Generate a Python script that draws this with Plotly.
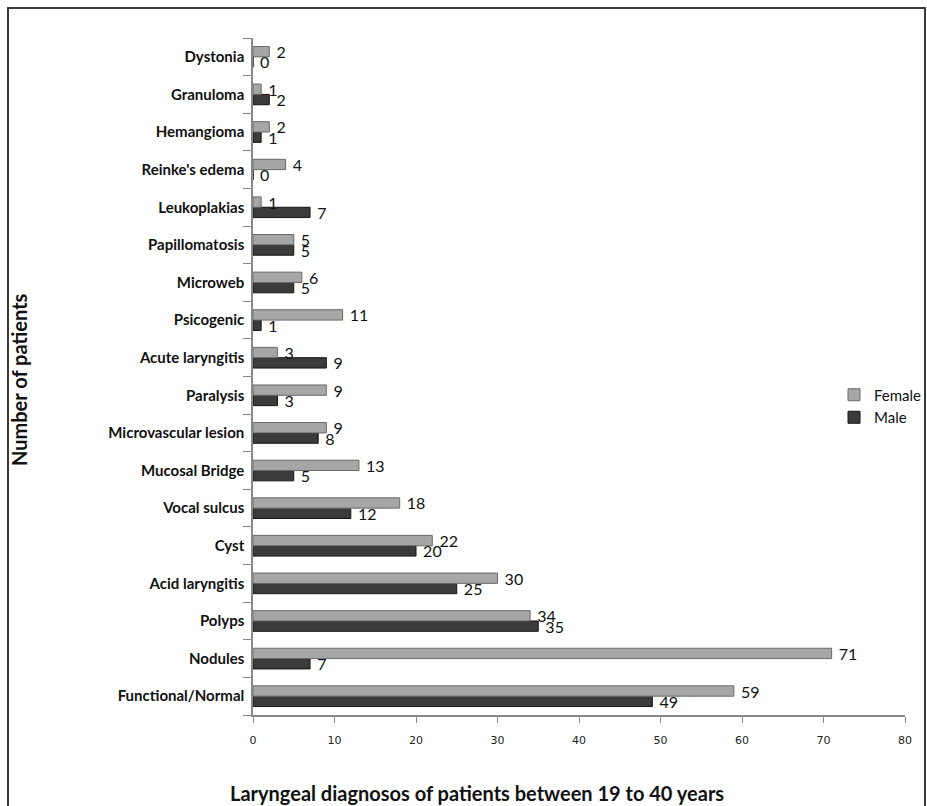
import plotly.graph_objects as go

categories = ["Functional/Normal", "Nodules", "Polyps", "Acid laryngitis", "Cyst",
              "Vocal sulcus", "Mucosal Bridge", "Microvascular lesion", "Paralysis",
              "Acute laryngitis", "Psicogenic", "Microweb", "Papillomatosis",
              "Leukoplakias", "Reinke's edema", "Hemangioma", "Granuloma", "Dystonia"]
female = [59, 71, 34, 30, 22, 18, 13, 9, 9, 3, 11, 6, 5, 1, 4, 2, 1, 2]
male = [49, 7, 35, 25, 20, 12, 5, 8, 3, 9, 1, 5, 5, 7, 0, 1, 2, 0]
x_ticks = [0, 10, 20, 30, 40, 50, 60, 70, 80]

W, H = 927, 806
L, R, T, B = 253, 22, 38, 91

FONT = "Lato, Open Sans, sans-serif"

fig = go.Figure()
fig.add_trace(go.Bar(
    y=categories, x=male, name="Male", orientation="h",
    marker=dict(color="#3b3b3b", line=dict(color="#151515", width=1)),
    texttemplate=" %{x}", textposition="outside", cliponaxis=False,
    constraintext="none",
    textfont=dict(family=FONT, size=16, color="#111111"),
))
fig.add_trace(go.Bar(
    y=categories, x=female, name="Female", orientation="h",
    marker=dict(color="#a6a6a6", line=dict(color="#6a6a6a", width=1)),
    texttemplate=" %{x}", textposition="outside", cliponaxis=False,
    constraintext="none",
    textfont=dict(family=FONT, size=16, color="#111111"),
))

pw = W - L - R
ph = H - T - B
def px_x(p):
    return (p - L) / pw
def px_y(p):
    return (H - B - p) / ph

# outer frame
fig.add_shape(type="rect", xref="paper", yref="paper",
              x0=px_x(8), x1=px_x(925), y0=px_y(812), y1=px_y(8),
              line=dict(color="#3a3a3a", width=2), layer="below")

# axis titles
fig.add_annotation(text="<b>Laryngeal diagnosos of patients between 19 to 40 years</b>",
                   xref="paper", yref="paper", x=px_x(477), y=px_y(793),
                   xanchor="center", yanchor="middle", showarrow=False,
                   font=dict(family=FONT, size=20, color="#111111"))
fig.add_annotation(text="<b>Number of patients</b>",
                   xref="paper", yref="paper", x=px_x(19), y=px_y(380),
                   xanchor="center", yanchor="middle", showarrow=False, textangle=-90,
                   font=dict(family=FONT, size=20, color="#111111"))

fig.update_layout(
    width=W, height=H,
    margin=dict(l=L, r=R, t=T, b=B, autoexpand=False),
    paper_bgcolor="white", plot_bgcolor="white",
    barmode="group", bargap=0.45, bargroupgap=0.0,
    font=dict(family=FONT, color="#111111"),
    showlegend=True,
    legend=dict(x=px_x(834), y=px_y(406), xanchor="left", yanchor="middle",
                traceorder="reversed", font=dict(family=FONT, size=15),
                bgcolor="rgba(0,0,0,0)", itemwidth=30, tracegroupgap=8),
    xaxis=dict(range=[0, 80], tickvals=x_ticks, ticks="outside", ticklen=6,
               tickcolor="#888888", showline=True, linecolor="#888888", linewidth=1.5,
               showgrid=False, zeroline=False, ticklabelstandoff=8,
               tickfont=dict(family="DejaVu Sans, sans-serif", size=11, color="#222222")),
    yaxis=dict(categoryorder="array", categoryarray=categories,
               ticks="outside", ticklen=8, tickcolor="#888888", tickson="boundaries",
               showline=True, linecolor="#888888", linewidth=1.5, showgrid=False,
               ticklabelstandoff=4,
               tickfont=dict(family=FONT, size=15, color="#111111", weight="bold")),
)

fig.write_html("out.html")
